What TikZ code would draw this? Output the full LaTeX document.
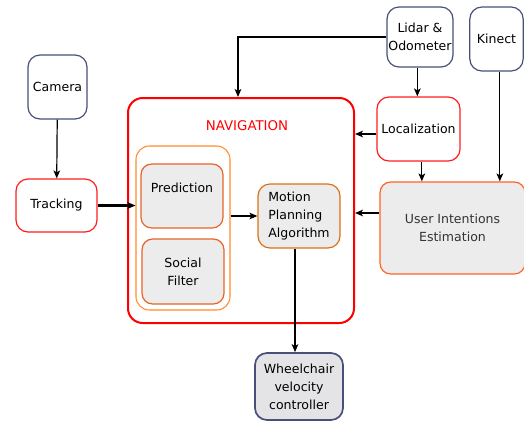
\documentclass[tikz,border=0pt]{standalone}
\usepackage{fontspec}
\setmainfont{DejaVu Sans}
\usepackage{xcolor}
\usetikzlibrary{shapes.geometric, arrows, arrows.meta, positioning, fit, calc}

\definecolor{sensorblue}{RGB}{72,80,122}
\definecolor{navred}{RGB}{255,0,0}
\definecolor{boxred}{RGB}{255,30,30}
\definecolor{grouporange}{RGB}{255,140,45}
\definecolor{innerorange}{RGB}{230,100,40}
\definecolor{motionorange}{RGB}{222,112,20}
\definecolor{uieorange}{RGB}{255,100,35}
\definecolor{boxgray}{RGB}{236,236,236}
\definecolor{wheelgray}{RGB}{228,228,230}

\begin{document}
\begin{tikzpicture}[
    x=0.75pt, y=-0.75pt,
    font=\fontsize{9.4}{13.5}\selectfont,
    sensor/.style={rectangle, rounded corners=9pt, draw=sensorblue, line width=0.9pt, fill=white, align=center, inner sep=1pt},
    redbox/.style={rectangle, rounded corners=9pt, draw=boxred, line width=0.9pt, fill=white, align=center},
    inner/.style={rectangle, rounded corners=8pt, draw=innerorange, line width=0.9pt, fill=boxgray, align=center, minimum width=61.5pt, inner sep=0pt},
    arrow/.style={->, >={Stealth[length=6pt, width=5pt, inset=1.5pt]}, line width=0.9pt},
    thickarrow/.style={->, >={Stealth[length=6pt, width=5pt, inset=1.5pt]}, line width=1.6pt}
]
    \useasboundingbox (0,0) rectangle (524,426);

    % Sensors
    \node[sensor, minimum width=44.25pt, minimum height=48pt] (camera) at (57.5,87) {Camera};
    \node[sensor, minimum width=49.5pt, minimum height=45pt] (lidar) at (420,37) {Lidar \&\\Odometer};
    \node[sensor, minimum width=40pt, minimum height=48pt] (kinect) at (496.5,39) {Kinect};

    % Perception
    \node[redbox, minimum width=60.75pt, minimum height=39.75pt] (tracking) at (56.5,205.5) {Tracking};
    \node[redbox, minimum width=60.75pt, minimum height=48pt] (loc) at (418.5,129) {Localization};
    \node[rectangle, rounded corners=8pt, draw=uieorange, line width=0.9pt, fill=boxgray, align=center,
          minimum width=108.75pt, minimum height=69pt, text=black!80] (uie) at (452.5,228) {User Intentions\\Estimation};

    % Navigation block
    \node[rectangle, rounded corners=11pt, draw=navred, line width=1.5pt, minimum width=169.5pt, minimum height=168.75pt] (nav) at (241,210.5) {};
    \node[text=navred, font=\fontsize{10}{12}\selectfont] (navlabel) at (247,126) {NAVIGATION};
    \node[rectangle, rounded corners=10pt, draw=grouporange, line width=0.8pt, minimum width=70.5pt, minimum height=123pt] (group) at (183,228) {};
    \node[inner, text height=21pt, text depth=27pt] (pred) at (182,196) {Prediction};
    \node[inner, minimum height=48.75pt] (social) at (183,271.5) {Social\\Filter};
    \node[rectangle, rounded corners=9pt, draw=motionorange, line width=0.9pt, fill=boxgray, align=left,
          minimum width=61.5pt, minimum height=48pt, inner sep=1pt] (motion) at (299,216) {Motion\\Planning\\Algorithm};

    % Actuator
    \node[sensor, line width=1.3pt, fill=wheelgray, minimum width=66pt, minimum height=50.25pt] (wheel) at (299,386.5) {Wheelchair\\velocity\\controller};

    % Connections
    \draw[arrow] (camera) -- (tracking);
    \draw[thickarrow] (tracking.east) -- (tracking.east -| group.west);
    \draw[arrow] (lidar.west) -| ([xshift=-2.25pt]nav.north);
    \draw[arrow] ([xshift=-2pt]lidar.south) -- ([xshift=-2pt]lidar.south |- loc.north);
    \draw[arrow] ([yshift=-3.75pt]loc.west) -- ([yshift=-3.75pt]loc.west -| nav.east);
    \draw[arrow] ([xshift=2.5pt]loc.south) -- ([xshift=2.5pt]loc.south |- uie.north);
    \draw[arrow] ([xshift=2.5pt]kinect.south) -- ([xshift=2.5pt]kinect.south |- uie.north);
    \draw[arrow] ([yshift=11.25pt]uie.west) -- ([yshift=11.25pt]uie.west -| nav.east);
    \draw[arrow] (motion.west -| group.east) -- (motion.west);
    \draw[arrow] ([xshift=-3pt]motion.south) -- ([xshift=-3pt]wheel.north);
\end{tikzpicture}
\end{document}
